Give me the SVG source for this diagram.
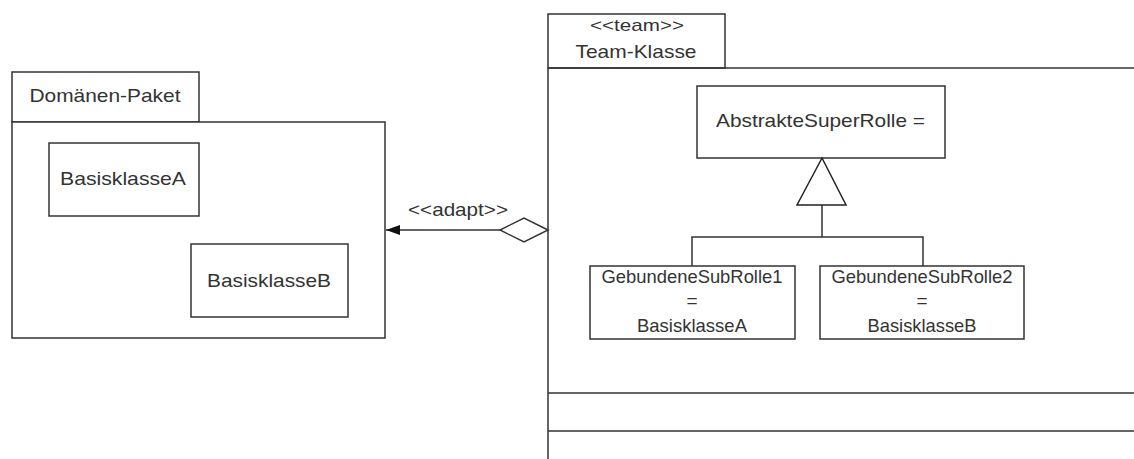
<svg xmlns="http://www.w3.org/2000/svg" width="1134" height="459" viewBox="0 0 1134 459">
  <style>
    .box { fill: #ffffff; stroke: #333333; stroke-width: 1.5; }
    .line { fill: none; stroke: #333333; stroke-width: 1.5; }
    text { font-family: "Liberation Sans", Arial, sans-serif; font-size: 19px; fill: #333333; }
    .c { text-anchor: middle; }
    .stereo { font-size: 17px; }
  </style>
  <defs>
    <marker id="arrow" viewBox="0 0 14 10" refX="14" refY="5" markerWidth="14" markerHeight="10" markerUnits="userSpaceOnUse" orient="auto">
      <path d="M0,0 L14,5 L0,10 Z" fill="#111111"/>
    </marker>
  </defs>
  <rect width="1134" height="459" fill="#ffffff"/>

  <!-- Domain package -->
  <g id="domaenen-paket">
    <rect class="box" x="12" y="72" width="187" height="50"/>
    <rect class="box" x="12" y="122" width="373" height="216"/>
    <text class="c" x="105" y="102" textLength="151" lengthAdjust="spacingAndGlyphs">Domänen-Paket</text>
  </g>
  <g id="basisklasse-a">
    <rect class="box" x="49" y="143" width="150" height="73"/>
    <text class="c" x="123" y="185" textLength="126" lengthAdjust="spacingAndGlyphs">BasisklasseA</text>
  </g>
  <g id="basisklasse-b">
    <rect class="box" x="191" y="244" width="157" height="73"/>
    <text class="c" x="269" y="287" textLength="124" lengthAdjust="spacingAndGlyphs">BasisklasseB</text>
  </g>

  <!-- Team class with its compartments -->
  <g id="team-klasse">
    <rect class="box" x="548" y="14" width="177" height="54"/>
    <path class="line" d="M548,68 V460 M548,68 H1135 M548,393 H1135 M548,431 H1135"/>
    <text class="c stereo" x="637" y="31" textLength="94" lengthAdjust="spacingAndGlyphs">&lt;&lt;team&gt;&gt;</text>
    <text class="c" x="636" y="58" textLength="121" lengthAdjust="spacingAndGlyphs">Team-Klasse</text>
  </g>
  <g id="abstrakte-super-rolle">
    <rect class="box" x="697" y="86" width="248" height="72"/>
    <text x="716" y="127" textLength="209" lengthAdjust="spacingAndGlyphs">AbstrakteSuperRolle =</text>
  </g>
  <g id="gebundene-sub-rolle-1">
    <rect class="box" x="590" y="266" width="205" height="73"/>
    <text class="c" x="692" y="283" textLength="181" lengthAdjust="spacingAndGlyphs">GebundeneSubRolle1</text>
    <text class="c" x="692" y="307">=</text>
    <text class="c" x="692" y="332" textLength="110" lengthAdjust="spacingAndGlyphs">BasisklasseA</text>
  </g>
  <g id="gebundene-sub-rolle-2">
    <rect class="box" x="820" y="266" width="204" height="73"/>
    <text class="c" x="922" y="283" textLength="181" lengthAdjust="spacingAndGlyphs">GebundeneSubRolle2</text>
    <text class="c" x="922" y="307">=</text>
    <text class="c" x="922" y="332" textLength="109" lengthAdjust="spacingAndGlyphs">BasisklasseB</text>
  </g>

  <!-- Connectors -->
  <g id="connectors">
    <!-- adapt association with aggregation diamond -->
    <line class="line" x1="500" y1="230" x2="386" y2="230" marker-end="url(#arrow)"/>
    <path d="M548,230 L524,218 L500,230 L524,242 Z" fill="#ffffff" stroke="#333333" stroke-width="1.5"/>
    <text class="c" x="458" y="216" textLength="100" lengthAdjust="spacingAndGlyphs">&lt;&lt;adapt&gt;&gt;</text>
    <!-- generalization tree -->
    <path class="line" d="M822,205 V237 M692,266 V237 H923 V266"/>
    <path d="M822,158 L846,205 L797,205 Z" fill="#ffffff" stroke="#222222" stroke-width="1.5"/>
  </g>
</svg>
